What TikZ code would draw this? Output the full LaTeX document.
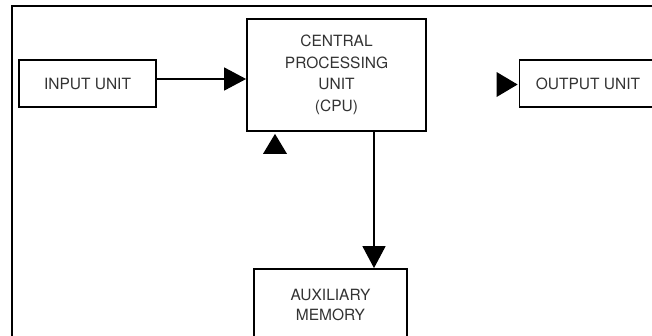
\documentclass[tikz,border=0pt]{standalone}
\usepackage{fontspec}
\setmainfont{TeX Gyre Heros}
\usetikzlibrary{arrows.meta}
\tikzset{
  unitbox/.style={draw=black, line width=1.8pt, fill=white, inner sep=0pt,
    font=\fontsize{15.5}{21.5}\selectfont, text=black!80, align=center},
  arr/.style={line width=1.5pt, -{Triangle[length=22pt,width=23pt]}},
  frameline/.style={line width=1.7pt},
  freehead/.style={fill=black}
}
\begin{document}
\begin{tikzpicture}[x=1pt,y=-1pt]
\useasboundingbox (0,0) rectangle (652,335);
\fill[white] (0,0) rectangle (652,335);
\draw[frameline] (12,6) rectangle (700,400);
\node[unitbox, minimum width=137pt, minimum height=47pt] (input) at (87.5,83.5) {INPUT UNIT};
\node[unitbox, minimum width=179pt, minimum height=112pt] (cpu) at (336.5,75) {CENTRAL\\PROCESSING\\UNIT\\(CPU)};
\node[unitbox, minimum width=137pt, minimum height=47pt] (output) at (588,83.5) {OUTPUT UNIT};
\node[unitbox, minimum width=153pt, minimum height=72pt, font=\fontsize{15.5}{19.5}\selectfont] (aux) at (330.5,305) {AUXILIARY\\MEMORY};
\draw[arr] ([yshift=4.5pt]input.east) -- ([yshift=4.5pt]input.east -| cpu.west);
\draw[arr] ([xshift=37.5pt]cpu.south) -- ([xshift=37.5pt]cpu.south |- aux.north);
\coordinate (uptip) at ([xshift=-61.5pt,yshift=-2pt]cpu.south);
\fill[freehead] (uptip) -- ++(-12,20) -- ++(24,0) -- cycle;
\coordinate (righttip) at ([xshift=-1pt,yshift=-1pt]output.west);
\fill[freehead] (righttip) -- ++(-21,-12.5) -- ++(0,25) -- cycle;
\end{tikzpicture}
\end{document}
